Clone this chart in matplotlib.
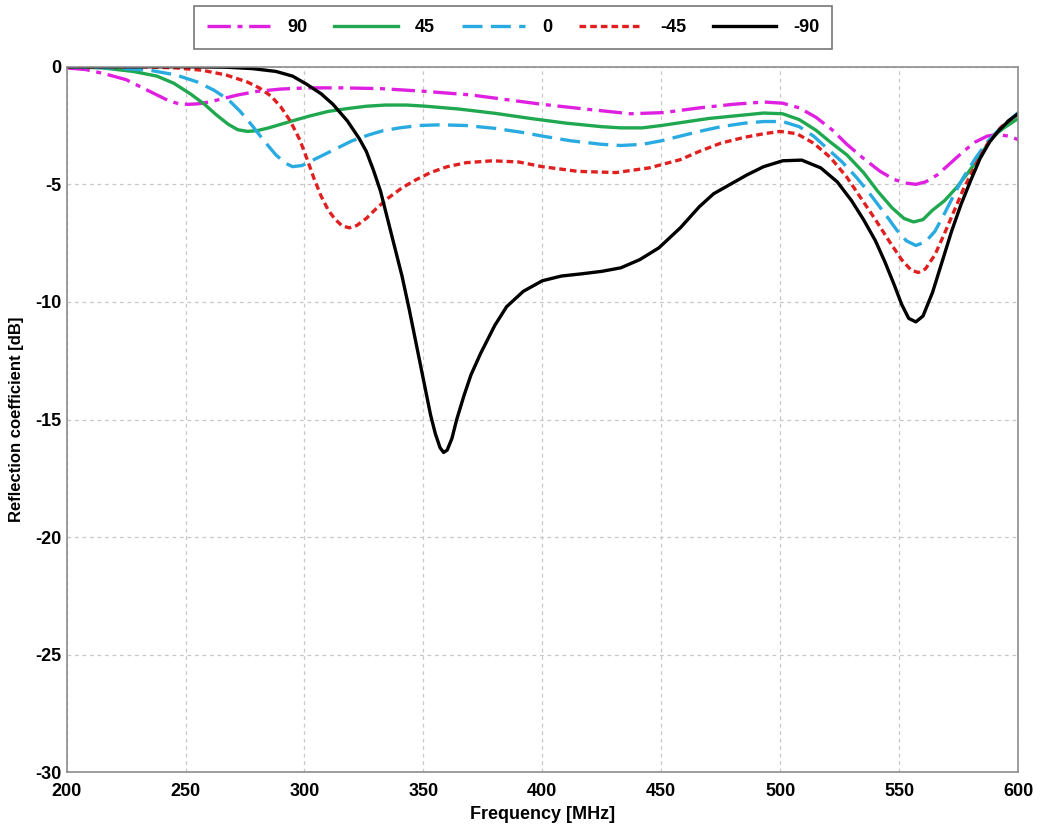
import matplotlib
matplotlib.use("Agg")
import matplotlib.pyplot as plt

# ----- DATA -----
f_p90 = [200, 208, 216, 225, 232, 238, 243, 247, 251, 255, 260, 266, 272, 280, 290, 301, 316, 332,
         351, 370, 385, 400, 418, 437, 451, 466, 480, 493, 501, 508, 515, 522, 528, 535, 542, 548,
         553, 557, 561, 566, 571, 577, 582, 587, 591, 596, 600]
v_p90 = [-0.05, -0.12, -0.3, -0.55, -0.9, -1.2, -1.45, -1.57, -1.6, -1.58, -1.5, -1.35, -1.2, -1.05,
         -0.95, -0.9, -0.9, -0.93, -1.05, -1.2, -1.4, -1.6, -1.8, -2.0, -1.95, -1.75, -1.6, -1.5, -1.55,
         -1.75, -2.15, -2.7, -3.3, -3.9, -4.45, -4.8, -4.95, -5.0, -4.9, -4.6, -4.15, -3.6, -3.2, -2.95,
         -2.88, -2.95, -3.1]

f_p45 = [200, 215, 228, 238, 245, 252, 258, 263, 268, 272, 276, 280, 285, 290, 295, 302, 310, 318,
         326, 334, 343, 351, 365, 380, 395, 410, 425, 433, 442, 450, 460, 470, 480, 493, 501, 508,
         515, 521, 528, 535, 541, 547, 552, 556, 560, 564, 569, 574, 579, 584, 589, 594, 600]
v_p45 = [0.0, -0.05, -0.2, -0.4, -0.7, -1.15, -1.6, -2.05, -2.45, -2.68, -2.75, -2.72, -2.6, -2.45,
         -2.3, -2.1, -1.9, -1.78, -1.68, -1.63, -1.63, -1.68, -1.8, -1.98, -2.2, -2.4, -2.55, -2.6, -2.6,
         -2.5, -2.35, -2.2, -2.1, -1.97, -2.0, -2.25, -2.7, -3.2, -3.75, -4.5, -5.3, -6.0, -6.45, -6.6,
         -6.5, -6.1, -5.7, -5.15, -4.5, -3.8, -3.0, -2.6, -2.2]

f_0 = [200, 220, 235, 246, 255, 262, 268, 273, 278, 283, 288, 292, 295, 299, 303, 308, 314, 320,
       327, 333, 340, 348, 357, 368, 380, 392, 400, 412, 425, 433, 442, 450, 458, 466, 475, 485,
       493, 501, 508, 514, 520, 526, 532, 538, 544, 549, 553, 557, 561, 565, 569, 573, 577, 582,
       587, 593, 600]
v_0 = [0.0, -0.05, -0.15, -0.35, -0.65, -1.0, -1.4, -1.9, -2.5, -3.15, -3.75, -4.1, -4.25, -4.2, -4.0,
       -3.75, -3.45, -3.15, -2.9, -2.72, -2.6, -2.5, -2.47, -2.5, -2.62, -2.8, -2.95, -3.15, -3.3,
       -3.35, -3.3, -3.15, -2.95, -2.75, -2.55, -2.4, -2.33, -2.33, -2.55, -2.95, -3.5, -4.05, -4.7,
       -5.45, -6.25, -6.95, -7.4, -7.6, -7.45, -7.0, -6.25, -5.45, -4.7, -3.9, -3.2, -2.55, -1.95]

f_m45 = [200, 230, 246, 257, 267, 276, 281, 286, 290, 294, 298, 301, 304, 307, 310, 313, 316, 319,
         322, 326, 330, 335, 341, 347, 353, 360, 368, 379, 390, 400, 415, 431, 445, 458, 466, 475,
         485, 493, 500, 507, 514, 521, 528, 534, 540, 546, 551, 555, 558, 561, 565, 569, 573, 577,
         582, 587, 593, 600]
v_m45 = [0.0, 0.0, -0.05, -0.15, -0.35, -0.65, -0.9, -1.25, -1.7, -2.3, -3.1, -3.9, -4.75, -5.5, -6.1,
         -6.5, -6.78, -6.85, -6.75, -6.45, -6.05, -5.6, -5.15, -4.8, -4.5, -4.25, -4.08, -4.0, -4.05,
         -4.25, -4.45, -4.5, -4.3, -3.95, -3.6, -3.25, -3.0, -2.85, -2.75, -2.85, -3.25, -3.85, -4.7,
         -5.6, -6.5, -7.45, -8.2, -8.65, -8.75, -8.6, -8.0, -7.1, -6.15, -5.2, -4.2, -3.3, -2.55, -2.0]

f_m90 = [200, 250, 267, 278, 288, 295, 301, 307, 312, 318, 323, 326, 329, 332, 335, 338, 341, 344,
         347, 350, 353, 355, 357, 358.5, 360, 362, 364, 367, 370, 374, 380, 385, 392, 400, 408, 417,
         425, 433, 441, 449, 458, 466, 472, 479, 486, 493, 501, 509, 517, 524, 530, 535, 540, 544,
         548, 551, 554, 557, 560, 564, 568, 572, 576, 580, 584, 588, 592, 596, 600]
v_m90 = [0.0, 0.0, -0.02, -0.08, -0.2, -0.4, -0.75, -1.15, -1.6, -2.3, -3.05, -3.6, -4.4, -5.3, -6.5,
         -7.7, -8.9, -10.3, -11.8, -13.3, -14.8, -15.6, -16.2, -16.4, -16.3, -15.8, -15.0, -14.0,
         -13.1, -12.2, -11.0, -10.2, -9.55, -9.1, -8.9, -8.8, -8.7, -8.55, -8.2, -7.7, -6.85, -5.95,
         -5.4, -5.0, -4.6, -4.25, -4.0, -3.97, -4.3, -4.9, -5.7, -6.5, -7.4, -8.3, -9.3, -10.1,
         -10.7, -10.85, -10.6, -9.6, -8.3, -7.0, -5.85, -4.85, -3.9, -3.2, -2.7, -2.3, -2.0]

labels = ["90", "45", "0", "-45", "-90"]
colors = ["#e020e0", "#1fa84f", "#29abe2", "#e02020", "#000000"]
styles = [(0, (7, 2, 1.5, 2)), "-", (0, (6, 2.5)), (0, (2, 1.2)), "-"]

plt.rcParams["font.family"] = ["Liberation Sans", "DejaVu Sans"]
plt.rcParams["font.weight"] = "bold"
plt.rcParams["axes.unicode_minus"] = False

fig = plt.figure(figsize=(10.4, 8.34), dpi=100)
ax = fig.add_axes([0.064, 0.074, 0.915, 0.846])

series = [(f_p90, v_p90), (f_p45, v_p45), (f_0, v_0), (f_m45, v_m45), (f_m90, v_m90)]
for (fx, vy), lab, col, ls in zip(series, labels, colors, styles):
    ax.plot(fx, vy, color=col, linestyle=ls, linewidth=2.4, label=lab,
            solid_joinstyle="round", dash_joinstyle="round")

ax.set_xlim(200, 600)
ax.set_ylim(-30, 0)
ax.set_xticks(range(200, 601, 50))
ax.set_yticks(range(-30, 1, 5))
ax.grid(True, linestyle=(0, (3, 3)), color="#c8c8c8", linewidth=0.9)
ax.tick_params(length=0, labelsize=13)
ax.tick_params(axis="x", pad=8)
ax.tick_params(axis="y", pad=4)
for lbl in ax.get_xticklabels() + ax.get_yticklabels():
    lbl.set_fontweight("bold")
for sp in ax.spines.values():
    sp.set_color("#8c8c8c")
    sp.set_linewidth(1.2)

ax.set_xlabel("Frequency [MHz]", fontsize=13, fontweight="bold", labelpad=4)
ax.set_ylabel("Reflection coefficient [dB]", fontsize=12, fontweight="bold", labelpad=8)

leg = fig.legend(loc="center", bbox_to_anchor=(0.4935, 0.967), ncol=5, frameon=True,
                 fancybox=False, handlelength=3.5, columnspacing=1.5, handletextpad=0.95,
                 prop={"size": 13, "weight": "bold"}, borderpad=0.7, borderaxespad=0)
leg.get_frame().set_edgecolor("#555555")
leg.get_frame().set_linewidth(1.2)

fig.savefig("out.png", dpi=100)
